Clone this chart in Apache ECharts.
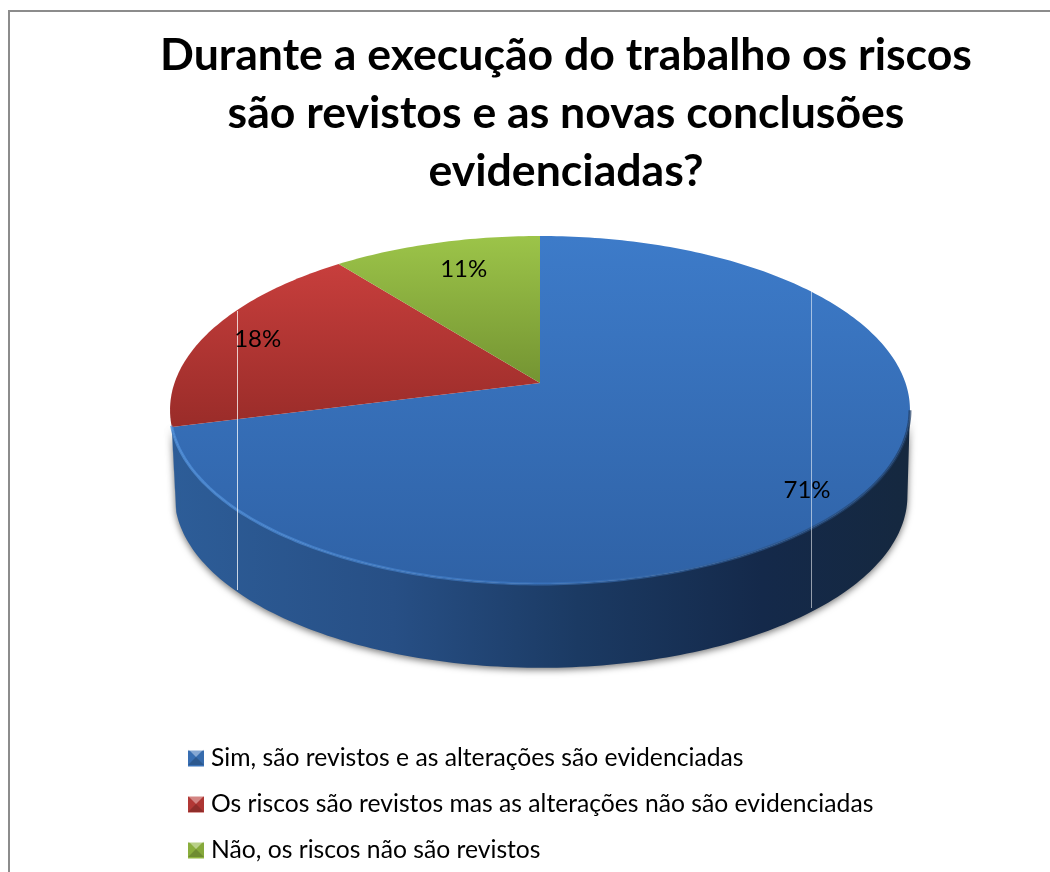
<!DOCTYPE html>
<html>
<head>
<meta charset="utf-8">
<style>
  html, body { margin: 0; padding: 0; background: #fff; }
  #chart { width: 1050px; height: 872px; }
</style>
<script src="https://cdn.jsdelivr.net/npm/echarts@6/dist/echarts.min.js"></script>
</head>
<body>
<div id="chart"></div>
<script>
const titleText = 'Durante a execução do trabalho os riscos\nsão revistos e as novas conclusões\nevidenciadas?';
const categories = [
  'Sim, são revistos e as alterações são evidenciadas',
  'Os riscos são revistos mas as alterações não são evidenciadas',
  'Não, os riscos não são revistos',
];
const shares = [71.0, 18.4, 10.6];

const fontName = 'Lato, "Open Sans", sans-serif';
const faceStops = [
  ['#3d7bc9', '#2f62a6', 236, 584],
  ['#cb403e', '#9a2c29', 250, 426],
  ['#9cc449', '#749432', 236, 383],
];
const swatchColors = ['#3a72b8', '#b83a37', '#8fb43f'];
const labelNudge = [[0, 11], [0, 1], [14, 8]];

// disco em perspectiva: o centro do círculo cai acima do centro da elipse
const disc = { cx: 540, cy: 383, rx: 365.5, ry: 169.8, k: 0.155 };
const base = { cx: 541, cy: 469, rx: 362, ry: 168, k: 0.155 };

const project = (d, deg, r = 1) => {
  const a = (deg * Math.PI) / 180;
  const u = r * Math.sin(a);
  const v = -r * Math.cos(a);
  const w = 1 - d.k * v;
  return [d.cx + (d.rx * u) / w, d.cy + (d.ry * v) / w];
};

const arc = (d, from, to) => {
  const pts = [];
  const steps = Math.max(2, Math.ceil(Math.abs(to - from)));
  for (let i = 0; i <= steps; i++) pts.push(project(d, from + ((to - from) * i) / steps));
  return pts;
};

const vgrad = (c0, c1, y0, y1) =>
  new echarts.graphic.LinearGradient(0, y0, 0, y1, [
    { offset: 0, color: c0 },
    { offset: 1, color: c1 },
  ], true);

const renderSlice = (idx) => (params, api) => {
  const start = (api.value(1) / 100) * 360;
  const end = ((api.value(1) + api.value(0)) / 100) * 360;
  const children = [];

  // parede lateral, só a parte virada para a frente
  const from = Math.max(start, 99);
  const to = Math.min(end, 256);
  if (to > from) {
    const top = arc(disc, from, to);
    const bottom = arc(base, to, from);
    children.push({
      type: 'polygon',
      shape: { points: top.concat(bottom) },
      style: {
        fill: new echarts.graphic.LinearGradient(172, 0, 910, 0, [
          { offset: 0, color: '#2d5d98' },
          { offset: 0.3, color: '#274f85' },
          { offset: 0.55, color: '#1b3a63' },
          { offset: 0.8, color: '#14294a' },
          { offset: 1, color: '#15283f' },
        ], true),
        shadowColor: 'rgba(0,0,0,0.55)',
        shadowBlur: 7,
        shadowOffsetY: 2,
      },
    });
  }

  const s = faceStops[idx];
  children.push({
    type: 'polygon',
    shape: { points: [[disc.cx, disc.cy]].concat(arc(disc, start, end)) },
    style: { fill: vgrad(s[0], s[1], s[2], s[3]) },
  });

  if (to > from) {
    children.push({
      type: 'polyline',
      shape: { points: arc(disc, from, to) },
      style: {
        fill: null,
        lineWidth: 3,
        stroke: new echarts.graphic.LinearGradient(172, 0, 910, 0, [
          { offset: 0, color: 'rgba(85,150,225,0.7)' },
          { offset: 0.5, color: 'rgba(65,125,200,0.55)' },
          { offset: 1, color: 'rgba(30,60,100,0.7)' },
        ], true),
      },
    });
  }
  return { type: 'group', children };
};

const renderLabel = (params, api) => {
  const idx = params.dataIndex;
  const mid = ((api.value(1) + api.value(0) / 2) / 100) * 360;
  const p = project(disc, mid, 0.85);
  return {
    type: 'text',
    style: {
      text: Math.round(api.value(0)) + '%',
      x: p[0] + labelNudge[idx][0],
      y: p[1] + labelNudge[idx][1],
      fill: '#000',
      font: '24px ' + fontName,
      align: 'center',
      verticalAlign: 'middle',
    },
  };
};

const starts = shares.map((_, i) => shares.slice(0, i).reduce((a, b) => a + b, 0));

const series = categories.map((name, i) => ({
  name,
  type: 'custom',
  coordinateSystem: 'none',
  z: 2,
  silent: true,
  itemStyle: { color: swatchColors[i] },
  data: [[shares[i], starts[i]]],
  renderItem: renderSlice(i),
}));
series.push({
  name: 'rótulos',
  type: 'custom',
  coordinateSystem: 'none',
  z: 6,
  silent: true,
  data: shares.map((v, i) => [v, starts[i]]),
  renderItem: renderLabel,
});

// chanfro das amostras da legenda
const bevel = (x, y, s) => {
  const m = [x + s / 2, y + s / 2];
  const tri = (a, b, fill) => ({ type: 'polygon', z: 5, silent: true, shape: { points: [a, b, m] }, style: { fill } });
  return [
    tri([x, y], [x + s, y], 'rgba(255,255,255,0.38)'),
    tri([x, y + s], [x + s, y + s], 'rgba(0,0,0,0.22)'),
    tri([x, y], [x, y + s], 'rgba(0,0,0,0.03)'),
    tri([x + s, y], [x + s, y + s], 'rgba(0,0,0,0.06)'),
  ];
};
const swatchTops = [749, 796, 841];

const chart = echarts.init(document.getElementById('chart'));
chart.setOption({
  animation: false,
  backgroundColor: '#fff',
  title: {
    text: titleText,
    left: 561,
    top: 22,
    textAlign: 'center',
    textStyle: { color: '#000', fontFamily: fontName, fontWeight: 'bold', fontSize: 44.6, lineHeight: 58 },
  },
  legend: {
    data: categories,
    orient: 'vertical',
    left: 183,
    top: 741,
    itemWidth: 16,
    itemHeight: 16,
    itemGap: 21,
    icon: 'rect',
    selectedMode: false,
    textStyle: { color: '#000', fontFamily: fontName, fontSize: 24.7, padding: [0, 0, 0, 2] },
  },
  graphic: [
    { type: 'polyline', z: 4, silent: true, shape: { points: [[9, 872], [9, 11], [1050, 11]] }, style: { fill: null, stroke: '#8c8c8c', lineWidth: 2 } },
    // fios claros que cortam o disco no original
    { type: 'line', z: 4, silent: true, shape: { x1: 237.5, y1: 311, x2: 237.5, y2: 590 }, style: { stroke: 'rgba(255,255,255,0.75)', lineWidth: 1 } },
    { type: 'line', z: 4, silent: true, shape: { x1: 811.5, y1: 288, x2: 811.5, y2: 608 }, style: { stroke: 'rgba(255,255,255,0.55)', lineWidth: 1 } },
    ...swatchTops.flatMap((y) => bevel(188, y, 16)),
  ],
  series,
});
</script>
</body>
</html>
